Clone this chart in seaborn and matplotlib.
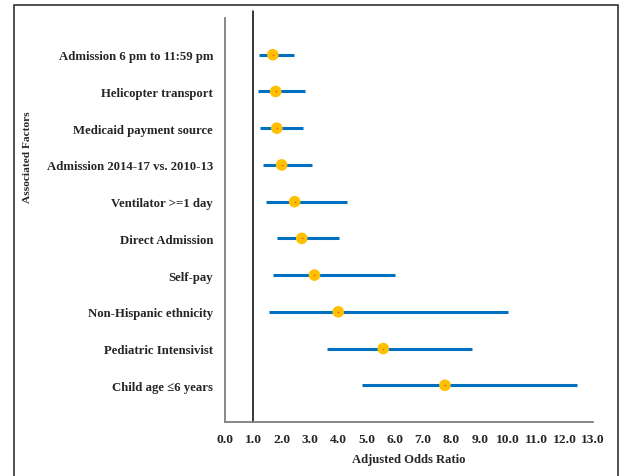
import pandas as pd
import matplotlib.pyplot as plt
import seaborn as sns
from matplotlib.patches import Rectangle

# Data
factors = ['Admission 6 pm to 11:59 pm', 'Helicopter transport', 'Medicaid payment source',
           'Admission 2014-17 vs. 2010-13', 'Ventilator >=1 day', 'Direct Admission',
           'Self-pay', 'Non-Hispanic ethnicity', 'Pediatric Intensivist', 'Child age \u22646 years']
aor = [1.69, 1.79, 1.83, 2.00, 2.46, 2.71, 3.16, 4.00, 5.59, 7.77]
ci_low = [1.19, 1.16, 1.23, 1.34, 1.44, 1.83, 1.69, 1.55, 3.62, 4.85]
ci_high = [2.42, 2.81, 2.74, 3.06, 4.32, 4.04, 6.01, 9.98, 8.71, 12.44]
xticks = [x * 1.0 for x in range(14)]

df = pd.DataFrame({'factor': factors, 'aor': aor, 'lo': ci_low, 'hi': ci_high})

sns.set_style("white")
plt.rcParams['font.family'] = ['Liberation Serif', 'DejaVu Serif']
plt.rcParams['font.weight'] = 'bold'

fig = plt.figure(figsize=(6.2, 4.77), dpi=100)
ax = fig.add_axes([225 / 620, 1 - 423 / 477, 368 / 620, 404 / 477])

ax.hlines(df['factor'], df['lo'], df['hi'], color='#0070C0', lw=2.2, zorder=2)
sns.scatterplot(data=df, x='aor', y='factor', ax=ax, color='#FFC000', s=70,
                edgecolor='none', zorder=3)
ax.scatter(df['aor'], df['factor'], marker='o', color='#F05A28', s=1.5, lw=0, zorder=4)

ax.axvline(1.0, ymin=0, ymax=1.017, color='black', lw=1.1, clip_on=False, zorder=1)

ax.set_xlim(0, 13)
ax.set_ylim(9 + 1, -1)
ax.set_xticks(xticks)
ax.set_xticklabels([f'{t:.1f}' for t in xticks], fontsize=9.7, fontweight='bold')
ax.tick_params(axis='y', labelsize=9.2, length=0, pad=8.5)
ax.tick_params(axis='x', length=0, pad=8)
for lab in ax.get_yticklabels():
    lab.set_fontweight('bold')

ax.set_xlabel('Adjusted Odds Ratio', fontsize=9.1, fontweight='bold', labelpad=6)
ax.set_ylabel('')
fig.text(28 / 620, 1 - 157 / 477, 'Associated Factors', rotation=90, ha='center', va='center',
         fontsize=8.2, fontweight='bold')

for side in ['top', 'right']:
    ax.spines[side].set_visible(False)
for side in ['left', 'bottom']:
    ax.spines[side].set_color('#7f7f7f')
    ax.spines[side].set_linewidth(1.3)

# outer frame
fig.patches.append(Rectangle((14 / 620, -0.05), 604 / 620, 1.05 - 6 / 477,
                             transform=fig.transFigure, fill=False,
                             edgecolor='#333333', lw=1.2))

plt.savefig('out.png', dpi=100)
